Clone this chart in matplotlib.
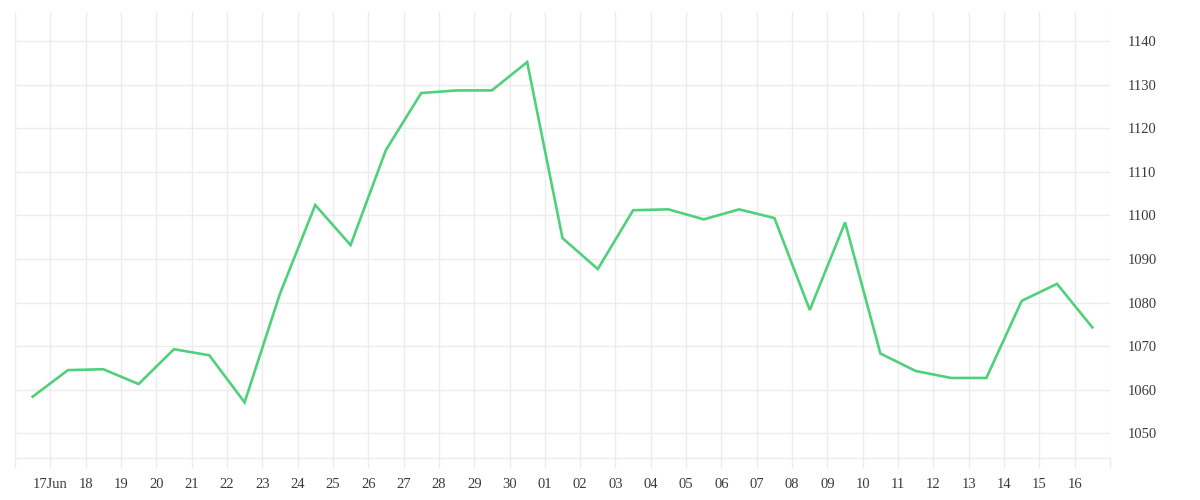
import datetime as dt
import matplotlib
matplotlib.use("Agg")
import matplotlib.pyplot as plt
import matplotlib.dates as mdates

# daily values, plotted at noon of each day (16 Jun .. 16 Jul)
start_day = dt.datetime(2023, 6, 16)
values = [1058.4, 1064.5, 1064.7, 1061.3, 1069.3, 1067.9, 1057.1, 1082.0,
          1102.4, 1093.2, 1115.0, 1128.1, 1128.7, 1128.7, 1135.2, 1094.8,
          1087.7, 1101.2, 1101.4, 1099.1, 1101.4, 1099.4, 1078.3, 1098.4,
          1068.3, 1064.3, 1062.7, 1062.7, 1080.4, 1084.3, 1074.3]
tick_labels = ["", "17Jun", "18", "19", "20", "21", "22", "23", "24", "25",
               "26", "27", "28", "29", "30", "01", "02", "03", "04", "05",
               "06", "07", "08", "09", "10", "11", "12", "13", "14", "15",
               "16", ""]
y_ticks = [1050, 1060, 1070, 1080, 1090, 1100, 1110, 1120, 1130, 1140]

dates = [start_day + dt.timedelta(days=i, hours=12) for i in range(len(values))]
tick_days = [start_day + dt.timedelta(days=i) for i in range(len(tick_labels))]

grid_col = "#ececec"
text_col = "#3a3a3a"

fig = plt.figure(figsize=(12, 5), dpi=100)
ax = fig.add_axes([0.0125, 0.0834, 0.9125, 0.8926])

ax.plot(dates, values, color="#4fd17b", lw=1.9, solid_joinstyle="miter", zorder=3)

ax.set_xlim(tick_days[0], tick_days[-1])
ax.set_ylim(1044.26, 1146.7)

ax.set_xticks(tick_days)
ax.set_xticklabels(tick_labels)
ax.set_yticks(y_ticks)
ax.yaxis.tick_right()

ax.grid(True, color=grid_col, lw=1)
ax.set_axisbelow(True)
for s in ["top", "left", "right"]:
    ax.spines[s].set_visible(False)
ax.spines["bottom"].set_color(grid_col)
ax.spines["bottom"].set_linewidth(1)

ax.tick_params(axis="x", length=7, width=1, color=grid_col, pad=7,
               labelsize=10.5, labelcolor=text_col)
ax.tick_params(axis="y", length=0, pad=13, labelsize=10.5, labelcolor=text_col)
for lab in ax.get_xticklabels() + ax.get_yticklabels():
    lab.set_family("Liberation Serif")

fig.savefig("out.png", dpi=100)
